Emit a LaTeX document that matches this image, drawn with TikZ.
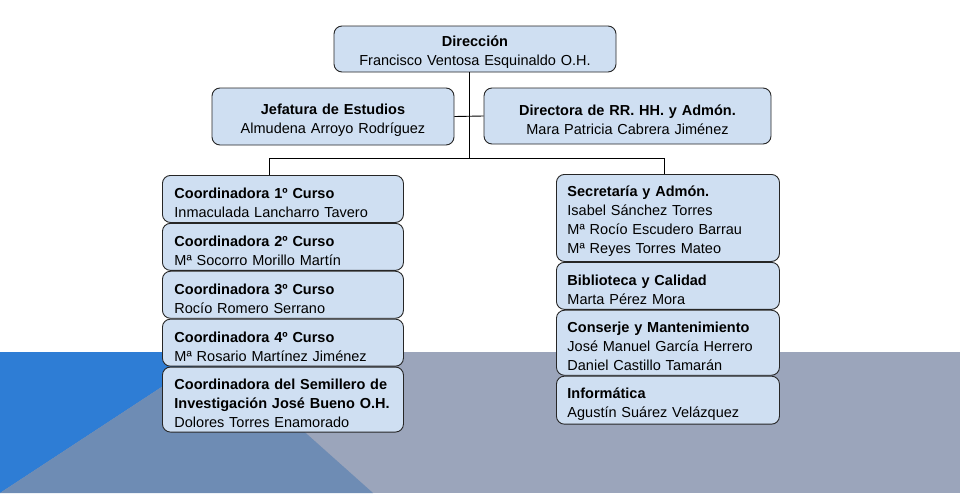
\documentclass[tikz,border=0pt]{standalone}
\usepackage{fontspec}
\setmainfont{Liberation Sans}
\usepackage{tikz}
\usetikzlibrary{positioning,calc}

\definecolor{boxblue}{HTML}{CFDFF2}
\definecolor{slideblue}{HTML}{2E7DD5}
\definecolor{slidemid}{HTML}{6E8CB4}
\definecolor{slidegray}{HTML}{9BA5BB}
\newcommand{\headstrut}{\rule{0pt}{18pt}}

\begin{document}
\begin{tikzpicture}[
    x=1pt, y=-1pt,
    node distance=0pt,
    unit/.style={rectangle, draw=black!85, line width=0.9pt, rounded corners=8pt, fill=boxblue, inner sep=0pt, font=\fontsize{14.5}{19}\selectfont, execute at begin node={\headstrut}},
    topunit/.style={unit, align=center},
    leftunit/.style={unit, align=left, text width=217pt, minimum width=241pt, minimum height=47pt},
    rightunit/.style={unit, align=left, text width=201pt, minimum width=223pt, minimum height=47pt},
    link/.style={draw, line width=0.9pt}
]

% Slide background
\useasboundingbox (0,0) rectangle (960,493);
\fill[white] (0,0) rectangle (960,352);
\fill[slidegray] (0,352) rectangle (960,493);
\fill[slideblue] (0,352) -- (215,352) -- (0,493) -- cycle;
\fill[slidemid] (215,352) -- (373,493) -- (0,493) -- cycle;

% Direction
\node[topunit, text width=270pt, minimum width=282pt, minimum height=46pt] (dir) at (475,49) {\textbf{Dirección}\\Francisco Ventosa Esquinaldo O.H.};
\node[topunit, text width=230pt, minimum width=242pt, minimum height=57pt] (jefatura) at (333,116.5) {\textbf{Jefatura de Estudios}\\Almudena Arroyo Rodríguez};
\node[topunit, text width=275pt, minimum width=287pt, minimum height=56pt] (rrhh) at (627.5,116) {\textbf{Directora de RR. HH. y Admón.}\\Mara Patricia Cabrera Jiménez};

% Coordinators
\node[leftunit, anchor=north west] (coord1) at (162,175) {\textbf{Coordinadora 1º Curso}\\Inmaculada Lancharro Tavero};
\node[leftunit, below=of coord1] (coord2) {\textbf{Coordinadora 2º Curso}\\Mª Socorro Morillo Martín};
\node[leftunit, below=of coord2] (coord3) {\textbf{Coordinadora 3º Curso}\\Rocío Romero Serrano};
\node[leftunit, below=of coord3] (coord4) {\textbf{Coordinadora 4º Curso}\\Mª Rosario Martínez Jiménez};
\node[leftunit, below=of coord4, minimum height=65pt] (semillero) {\textbf{Coordinadora del Semillero de}\\\textbf{Investigación José Bueno O.H.}\\Dolores Torres Enamorado};

% Services
\node[rightunit, anchor=north west, minimum height=87pt] (secretaria) at (556,174) {\textbf{Secretaría y Admón.}\\Isabel Sánchez Torres\\Mª Rocío Escudero Barrau\\Mª Reyes Torres Mateo};
\node[rightunit, below=of secretaria] (biblioteca) {\textbf{Biblioteca y Calidad}\\Marta Pérez Mora};
\node[rightunit, below=of biblioteca, minimum height=65pt] (conserje) {\textbf{Conserje y Mantenimiento}\\José Manuel García Herrero\\Daniel Castillo Tamarán};
\node[rightunit, below=of conserje, minimum height=48pt] (informatica) {\textbf{Informática}\\Agustín Suárez Velázquez};

% Lines
\coordinate (trunk) at (469,158);
\coordinate (lbranch) at (269,158);
\coordinate (rbranch) at (664,158);
\draw[link] (dir.south -| trunk) -- (trunk);
\draw[link] (jefatura.east) -- (rrhh.west);
\draw[link] (coord1.north -| lbranch) |- (rbranch) -- (rbranch |- secretaria.north);

\end{tikzpicture}
\end{document}
